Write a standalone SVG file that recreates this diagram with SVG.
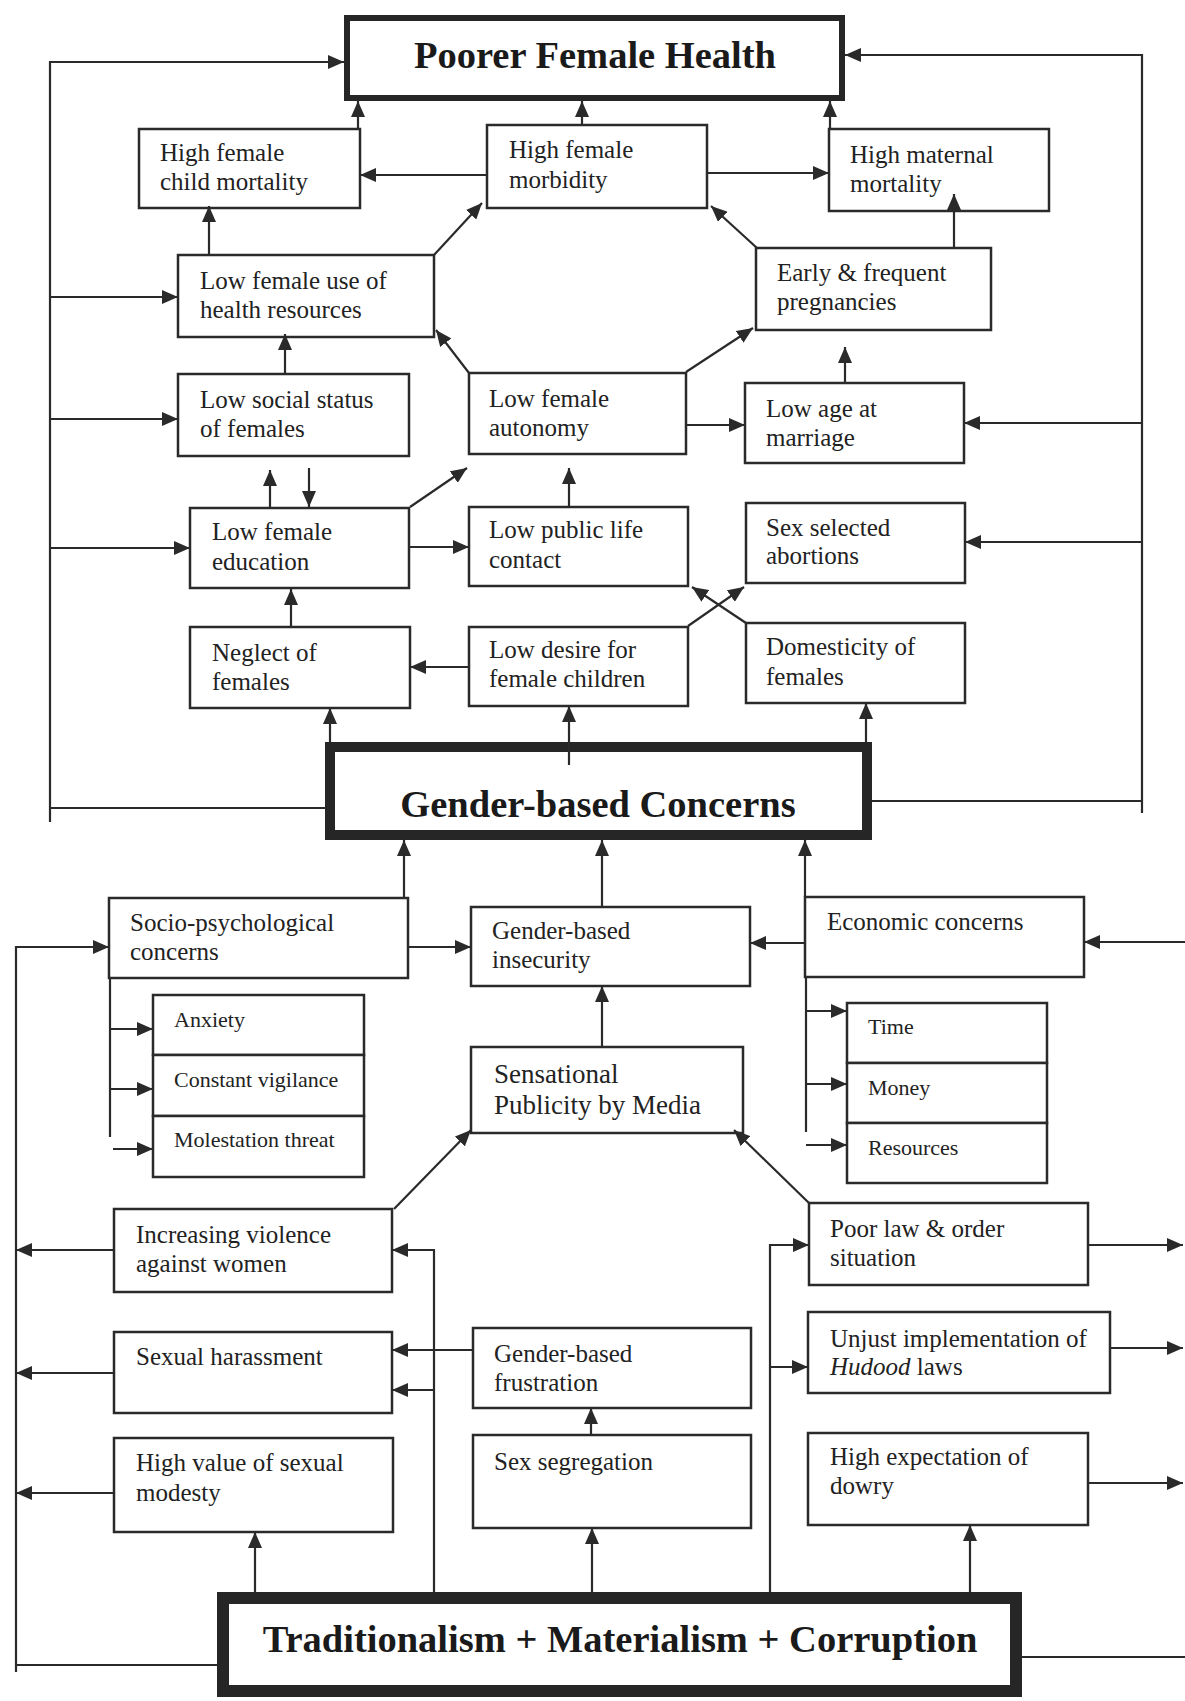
<svg xmlns="http://www.w3.org/2000/svg" width="1185" height="1701" viewBox="0 0 1185 1701">
<style>
.bx{fill:#ffffff;stroke:#2a2a2a;stroke-width:2.5}
.tk{fill:#ffffff;stroke:#262626}
.t{font-family:"Liberation Serif","Times New Roman",serif;font-size:25px;fill:#222}
.s{font-family:"Liberation Serif","Times New Roman",serif;font-size:22px;fill:#222}
.m{font-family:"Liberation Serif","Times New Roman",serif;font-size:27px;fill:#222}
.h{font-family:"Liberation Serif","Times New Roman",serif;font-size:38.5px;font-weight:bold;fill:#1a1a1a;text-anchor:middle}
.c path{fill:none;stroke:#2a2a2a;stroke-width:2.2}
.c .a{marker-end:url(#ar)}
</style>
<defs>
<marker id="ar" viewBox="0 0 16 14" refX="16" refY="7" markerWidth="16" markerHeight="14" markerUnits="userSpaceOnUse" orient="auto">
<path d="M0,0L16,7L0,14z" fill="#2a2a2a"/>
</marker>
</defs>
<rect width="1185" height="1701" fill="#ffffff"/>

<g id="poorer-female-health"><rect class="tk" stroke-width="6" x="347" y="18" width="495" height="80"/><text class="h" x="595" y="68">Poorer Female Health</text></g>
<g id="high-female-child-mortality"><rect class="bx" x="139" y="129" width="221" height="79"/><text class="t"><tspan x="160" y="161">High female</tspan><tspan x="160" y="190">child mortality</tspan></text></g>
<g id="high-female-morbidity"><rect class="bx" x="487" y="125" width="220" height="83"/><text class="t"><tspan x="509" y="158">High female</tspan><tspan x="509" y="188">morbidity</tspan></text></g>
<g id="high-maternal-mortality"><rect class="bx" x="829" y="129" width="220" height="82"/><text class="t"><tspan x="850" y="163">High maternal</tspan><tspan x="850" y="192">mortality</tspan></text></g>
<g id="low-female-use-of-health-resources"><rect class="bx" x="178" y="255" width="256" height="82"/><text class="t"><tspan x="200" y="289">Low female use of</tspan><tspan x="200" y="318">health resources</tspan></text></g>
<g id="early-frequent-pregnancies"><rect class="bx" x="756" y="248" width="235" height="82"/><text class="t"><tspan x="777" y="281">Early &amp; frequent</tspan><tspan x="777" y="310">pregnancies</tspan></text></g>
<g id="low-social-status"><rect class="bx" x="178" y="374" width="231" height="82"/><text class="t"><tspan x="200" y="408">Low social status</tspan><tspan x="200" y="437">of females</tspan></text></g>
<g id="low-female-autonomy"><rect class="bx" x="469" y="373" width="217" height="81"/><text class="t"><tspan x="489" y="407">Low female</tspan><tspan x="489" y="436">autonomy</tspan></text></g>
<g id="low-age-at-marriage"><rect class="bx" x="745" y="383" width="219" height="80"/><text class="t"><tspan x="766" y="417">Low age at</tspan><tspan x="766" y="446">marriage</tspan></text></g>
<g id="low-female-education"><rect class="bx" x="190" y="508" width="219" height="80"/><text class="t"><tspan x="212" y="540">Low female</tspan><tspan x="212" y="570">education</tspan></text></g>
<g id="low-public-life-contact"><rect class="bx" x="469" y="507" width="219" height="79"/><text class="t"><tspan x="489" y="538">Low public life</tspan><tspan x="489" y="568">contact</tspan></text></g>
<g id="sex-selected-abortions"><rect class="bx" x="746" y="503" width="219" height="80"/><text class="t"><tspan x="766" y="536">Sex selected</tspan><tspan x="766" y="564">abortions</tspan></text></g>
<g id="neglect-of-females"><rect class="bx" x="190" y="627" width="220" height="81"/><text class="t"><tspan x="212" y="661">Neglect of</tspan><tspan x="212" y="690">females</tspan></text></g>
<g id="low-desire-for-female-children"><rect class="bx" x="469" y="627" width="219" height="79"/><text class="t"><tspan x="489" y="658">Low desire for</tspan><tspan x="489" y="687">female children</tspan></text></g>
<g id="domesticity-of-females"><rect class="bx" x="746" y="623" width="219" height="80"/><text class="t"><tspan x="766" y="655">Domesticity of</tspan><tspan x="766" y="685">females</tspan></text></g>
<g id="gender-based-concerns"><rect class="tk" stroke-width="10" x="330" y="747" width="537" height="88"/><text class="h" x="598" y="817">Gender-based Concerns</text></g>
<g id="socio-psychological-concerns"><rect class="bx" x="109" y="898" width="299" height="80"/><text class="t"><tspan x="130" y="931">Socio-psychological</tspan><tspan x="130" y="960">concerns</tspan></text></g>
<g id="gender-based-insecurity"><rect class="bx" x="471" y="907" width="279" height="79"/><text class="t"><tspan x="492" y="939">Gender-based</tspan><tspan x="492" y="968">insecurity</tspan></text></g>
<g id="economic-concerns"><rect class="bx" x="805" y="897" width="279" height="80"/><text class="t" x="827" y="930">Economic concerns</text></g>
<g id="anxiety"><rect class="bx" x="153" y="995" width="211" height="60"/><text class="s" x="174" y="1027">Anxiety</text></g>
<g id="constant-vigilance"><rect class="bx" x="153" y="1055" width="211" height="61"/><text class="s" x="174" y="1087">Constant vigilance</text></g>
<g id="molestation-threat"><rect class="bx" x="153" y="1116" width="211" height="61"/><text class="s" x="174" y="1147">Molestation threat</text></g>
<g id="time"><rect class="bx" x="847" y="1003" width="200" height="60"/><text class="s" x="868" y="1034">Time</text></g>
<g id="money"><rect class="bx" x="847" y="1063" width="200" height="60"/><text class="s" x="868" y="1095">Money</text></g>
<g id="resources"><rect class="bx" x="847" y="1123" width="200" height="60"/><text class="s" x="868" y="1155">Resources</text></g>
<g id="sensational-publicity-by-media"><rect class="bx" x="471" y="1047" width="272" height="86"/><text class="m"><tspan x="494" y="1083">Sensational</tspan><tspan x="494" y="1114">Publicity by Media</tspan></text></g>
<g id="increasing-violence-against-women"><rect class="bx" x="114" y="1209" width="278" height="83"/><text class="t"><tspan x="136" y="1243">Increasing violence</tspan><tspan x="136" y="1272">against women</tspan></text></g>
<g id="poor-law-order-situation"><rect class="bx" x="809" y="1203" width="279" height="82"/><text class="t"><tspan x="830" y="1237">Poor law &amp; order</tspan><tspan x="830" y="1266">situation</tspan></text></g>
<g id="sexual-harassment"><rect class="bx" x="114" y="1332" width="278" height="81"/><text class="t" x="136" y="1365">Sexual harassment</text></g>
<g id="gender-based-frustration"><rect class="bx" x="473" y="1328" width="278" height="80"/><text class="t"><tspan x="494" y="1362">Gender-based</tspan><tspan x="494" y="1391">frustration</tspan></text></g>
<g id="unjust-implementation-of-hudood-laws"><rect class="bx" x="808" y="1312" width="302" height="81"/><text class="t"><tspan x="830" y="1347">Unjust implementation of</tspan><tspan x="830" y="1375"><tspan font-style="italic">Hudood</tspan> laws</tspan></text></g>
<g id="high-value-of-sexual-modesty"><rect class="bx" x="114" y="1438" width="279" height="94"/><text class="t"><tspan x="136" y="1471">High value of sexual</tspan><tspan x="136" y="1501">modesty</tspan></text></g>
<g id="sex-segregation"><rect class="bx" x="473" y="1435" width="278" height="93"/><text class="t" x="494" y="1470">Sex segregation</text></g>
<g id="high-expectation-of-dowry"><rect class="bx" x="808" y="1433" width="280" height="92"/><text class="t"><tspan x="830" y="1465">High expectation of</tspan><tspan x="830" y="1494">dowry</tspan></text></g>
<g id="traditionalism-materialism-corruption"><rect class="tk" stroke-width="12" x="223" y="1598" width="793" height="93"/><text class="h" x="620" y="1652">Traditionalism + Materialism + Corruption</text></g>

<g id="connectors" class="c">
<path d="M326,808H50"/>
<path class="a" d="M50,822V62H344"/>
<path class="a" d="M50,297H178"/>
<path class="a" d="M50,419H178"/>
<path class="a" d="M50,548H190"/>
<path d="M872,801H1142"/>
<path class="a" d="M1142,813V55H845"/>
<path class="a" d="M1142,423H964"/>
<path class="a" d="M1142,542H965"/>
<path class="a" d="M358,129V101"/>
<path class="a" d="M582,125V101"/>
<path class="a" d="M830,129V101"/>
<path class="a" d="M487,175H360"/>
<path class="a" d="M707,173H829"/>
<path class="a" d="M434,255L482,203"/>
<path class="a" d="M209,255V206"/>
<path class="a" d="M757,248L711,206"/>
<path class="a" d="M954,248V194"/>
<path class="a" d="M285,374V334"/>
<path class="a" d="M469,373L436,330"/>
<path class="a" d="M686,372L753,328"/>
<path class="a" d="M686,425H745"/>
<path class="a" d="M845,383V347"/>
<path class="a" d="M270,508V470"/>
<path class="a" d="M309,468V507"/>
<path class="a" d="M410,507L467,468"/>
<path class="a" d="M410,547H469"/>
<path class="a" d="M569,507V468"/>
<path class="a" d="M291,627V589"/>
<path class="a" d="M469,667H410"/>
<path class="a" d="M688,626L744,587"/>
<path class="a" d="M746,623L692,587"/>
<path class="a" d="M330,742V708"/>
<path class="a" d="M569,765V706"/>
<path class="a" d="M866,742V703"/>
<path class="a" d="M404,898V840"/>
<path class="a" d="M602,907V840"/>
<path class="a" d="M805,897V840"/>
<path class="a" d="M408,947H471"/>
<path class="a" d="M805,943H750"/>
<path class="a" d="M602,1047V986"/>
<path d="M110,978V1137"/>
<path class="a" d="M110,1029H153"/>
<path class="a" d="M110,1089H153"/>
<path class="a" d="M113,1149H153"/>
<path d="M806,977V1132"/>
<path class="a" d="M806,1011H847"/>
<path class="a" d="M806,1084H847"/>
<path class="a" d="M806,1145H847"/>
<path class="a" d="M16,1672V947H109"/>
<path d="M217,1665H16"/>
<path class="a" d="M114,1250H16"/>
<path class="a" d="M114,1373H16"/>
<path class="a" d="M114,1493H16"/>
<path class="a" d="M1185,942H1084"/>
<path class="a" d="M1088,1245H1183"/>
<path class="a" d="M1110,1348H1183"/>
<path class="a" d="M1088,1483H1183"/>
<path d="M1022,1657H1185"/>
<path class="a" d="M394,1209L471,1130"/>
<path class="a" d="M809,1203L734,1130"/>
<path class="a" d="M434,1592V1250H392"/>
<path class="a" d="M434,1390H392"/>
<path class="a" d="M473,1350H392"/>
<path class="a" d="M770,1592V1245H809"/>
<path class="a" d="M770,1367H808"/>
<path class="a" d="M255,1592V1532"/>
<path class="a" d="M592,1592V1528"/>
<path class="a" d="M591,1435V1408"/>
<path class="a" d="M970,1592V1525"/>
</g>
</svg>
